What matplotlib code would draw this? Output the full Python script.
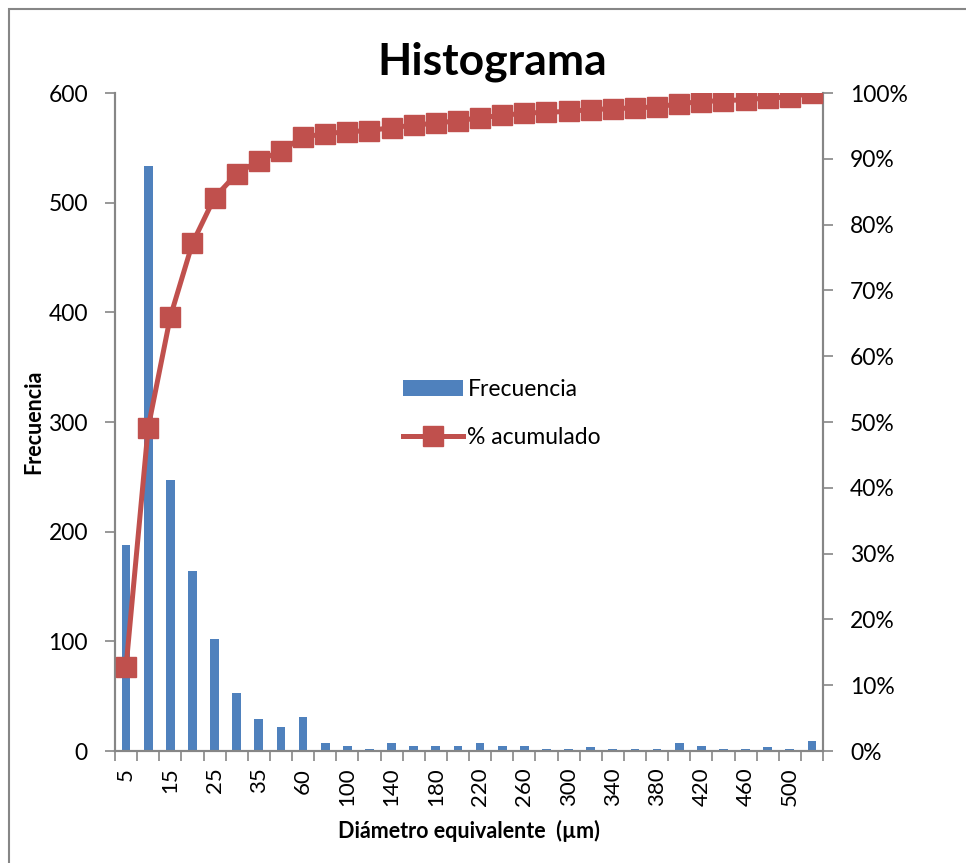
import numpy as np
import matplotlib.pyplot as plt
from matplotlib.patches import Rectangle
from matplotlib.ticker import FixedLocator, FuncFormatter

plt.rcParams['font.family'] = ['Lato', 'DejaVu Sans']

# bins (µm) and counts
categorias = ["5", "10", "15", "20", "25", "30", "35", "40", "60", "80", "100",
              "120", "140", "160", "180", "200", "220", "240", "260", "280", "300",
              "320", "340", "360", "380", "400", "420", "440", "460", "480", "500",
              "y mayor..."]
frecuencia = [188, 533, 247, 164, 102, 53, 29, 22, 31, 7, 5,
              2, 7, 5, 5, 5, 7, 5, 5, 2, 2,
              4, 2, 2, 2, 7, 5, 2, 2, 4, 2,
              9]

acumulado = np.cumsum(frecuencia) / np.sum(frecuencia)

azul = "#4F81BD"
rojo = "#C0504D"
gris = "#868686"

fig = plt.figure(figsize=(9.66, 8.63), dpi=100)
fig.patches.append(Rectangle((9 / 966, -0.1), 1.2, 1.1 - 9 / 863,
                             transform=fig.transFigure, fill=False,
                             edgecolor=gris, linewidth=1.5))

ax = fig.add_axes([115 / 966, 112 / 863, (823 - 115) / 966, (751 - 93) / 863])
ax2 = ax.twinx()

x = np.arange(len(categorias))
barras = ax.bar(x, frecuencia, width=0.4, color=azul, label="Frecuencia", zorder=2)
(linea,) = ax2.plot(x, acumulado, color=rojo, lw=3.6, marker="s", markersize=14,
                    label="% acumulado", zorder=3)

ax.set_xlim(-0.5, len(categorias) - 0.5)
ax.set_ylim(0, 600)
ax2.set_ylim(0, 1)
ax.set_yticks(range(0, 601, 100))
ax2.set_yticks(np.linspace(0, 1, 11))
ax2.yaxis.set_major_formatter(FuncFormatter(lambda v, p: f"{v * 100:.0f}%"))

# tick marks between categories, labels every other category
ax.xaxis.set_major_locator(FixedLocator(np.arange(-0.5, len(categorias), 1)))
ax.xaxis.set_major_formatter(FuncFormatter(lambda v, p: ""))
ax.xaxis.set_minor_locator(FixedLocator(x[::2]))
ax.set_xticklabels([c for c in categorias[::2]], minor=True, rotation=90,
                   fontsize=16)
ax.tick_params(axis="x", which="minor", length=0, pad=12)
ax.tick_params(axis="x", which="major", length=7.5, width=1.2, color=gris)

ax.tick_params(axis="y", labelsize=16.5, length=7.5, width=1.2, color=gris, pad=12)
ax2.tick_params(axis="y", labelsize=16.5, length=7.5, width=1.2, color=gris, pad=12)

for a in (ax, ax2):
    a.spines["top"].set_visible(False)
    for s in ("left", "right", "bottom"):
        a.spines[s].set_color(gris)
        a.spines[s].set_linewidth(1.5)

ax.set_ylabel("Frecuencia", fontsize=15.5, fontweight="bold", labelpad=3)
ax.set_xlabel("Diámetro equivalente  (µm)", fontsize=15.5, fontweight="bold",
              labelpad=10)
fig.text(492 / 966, 1 - 62 / 863, "Histograma", fontsize=32, fontweight="bold",
         ha="center", va="center")

ax.legend([barras, linea], ["Frecuencia", "% acumulado"], loc="center left",
          bbox_to_anchor=(0.378, 0.513), frameon=False, fontsize=16.5,
          handlelength=2.6, labelspacing=1.15, handletextpad=0.2)

fig.savefig("out.png", dpi=100)
